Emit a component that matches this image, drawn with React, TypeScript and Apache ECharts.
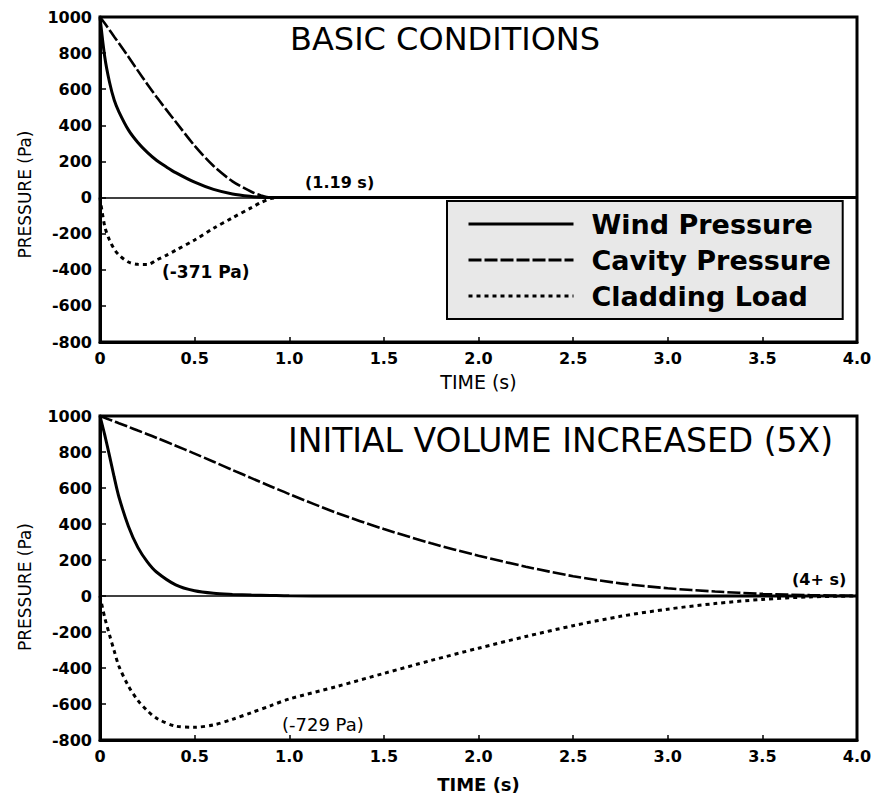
import React, { useEffect, useRef } from "react";
import * as echarts from "echarts";

// ---- data ----
const basicTime = [0, 0.025, 0.05, 0.075, 0.1, 0.15, 0.2, 0.25, 0.3, 0.35, 0.4, 0.5, 0.6, 0.7, 0.8, 0.85, 0.9, 0.95, 1.0, 1.5, 2.0, 2.5, 3.0, 3.5, 4.0];
const basicWind = [1000, 780, 640, 540, 475, 375, 305, 250, 205, 170, 138, 85, 45, 20, 6, 2, 0, 0, 0, 0, 0, 0, 0, 0, 0];
const basicCavity = [1000, 965, 928, 891, 855, 780, 703, 628, 555, 487, 420, 287, 175, 90, 32, 12, 0, 0, 0, 0, 0, 0, 0, 0, 0];
const basicCladding = [0, -160, -235, -285, -318, -357, -370, -371, -345, -320, -292, -235, -170, -112, -56, -28, -6, 0, 0, 0, 0, 0, 0, 0, 0];

const bigTime = [0, 0.025, 0.05, 0.075, 0.1, 0.15, 0.2, 0.25, 0.3, 0.4, 0.5, 0.6, 0.7, 0.8, 0.9, 1.0, 1.25, 1.5, 1.75, 2.0, 2.25, 2.5, 2.75, 3.0, 3.25, 3.5, 3.75, 4.0];
const bigWind = [1000, 895, 780, 660, 550, 388, 270, 190, 132, 62, 29, 15, 9, 5, 3, 1, 0, 0, 0, 0, 0, 0, 0, 0, 0, 0, 0, 0];
const bigCavity = [1000, 990, 980, 970, 960, 940, 919, 899, 878, 835, 791, 746, 700, 655, 610, 566, 462, 372, 293, 224, 163, 110, 70, 43, 25, 12, 5, 1];
const bigCladding = [0, -120, -215, -305, -390, -500, -580, -637, -680, -723, -729, -716, -685, -648, -610, -572, -503, -430, -358, -290, -225, -165, -113, -73, -42, -19, -5, 0];

const seriesNames = ["Wind Pressure", "Cavity Pressure", "Cladding Load"];
const panelTitles = ["BASIC CONDITIONS", "INITIAL VOLUME INCREASED (5X)"];
const annotations = ["(1.19 s)", "(-371 Pa)", "(-729 Pa)", "(4+ s)"];
const xName = "TIME (s)";
const yName = "PRESSURE (Pa)";

const zip = (t: number[], v: number[]) => t.map((x, i) => [x, v[i]]);

const FONT = "DejaVu Sans";

function makeAxes(idx: number) {
  const x = {
    type: "value",
    gridIndex: idx,
    min: 0,
    max: 4,
    interval: 0.5,
    axisLine: { show: true, onZero: false, lineStyle: { color: "#000", width: 3 } },
    axisTick: { show: true, inside: true, length: 5, lineStyle: { color: "#000", width: 1.5 } },
    axisLabel: {
      margin: 8,
      color: "#000",
      fontFamily: FONT,
      fontWeight: "bold",
      fontSize: 16,
      formatter: (v: number) => (v === 0 ? "0" : v.toFixed(1)),
    },
    splitLine: { show: false },
    name: xName,
    nameLocation: "middle",
    nameGap: idx === 0 ? 30 : 35,
    nameTextStyle: {
      color: "#000",
      fontFamily: FONT,
      fontSize: idx === 0 ? 19 : 18,
      fontWeight: idx === 0 ? "normal" : "bold",
    },
  };
  const y = {
    type: "value",
    gridIndex: idx,
    min: -800,
    max: 1000,
    interval: 200,
    axisLine: { show: true, onZero: false, lineStyle: { color: "#000", width: 3 } },
    axisTick: { show: true, inside: true, length: 6, lineStyle: { color: "#000", width: 1.5 } },
    axisLabel: {
      margin: 8,
      color: "#000",
      fontFamily: FONT,
      fontWeight: "bold",
      fontSize: 16,
      formatter: (v: number) => String(v),
    },
    splitLine: { show: false },
    name: yName,
    nameLocation: "middle",
    nameGap: 67,
    nameTextStyle: {
      color: "#000",
      fontFamily: FONT,
      fontSize: 17,
      padding: idx === 0 ? [0, 30, 0, 0] : [0, 18, 0, 0],
    },
  };
  return { x, y };
}

function makeSeries(idx: number, time: number[], wind: number[], cavity: number[], clad: number[]) {
  const common = {
    type: "line",
    xAxisIndex: idx,
    yAxisIndex: idx,
    symbol: "none",
    smooth: 0.3,
  };
  return [
    {
      ...common,
      name: seriesNames[0],
      data: zip(time, wind),
      lineStyle: { color: "#000", width: 3, type: "solid" },
      itemStyle: { color: "#000" },
      z: 3,
      markLine: {
        silent: true,
        symbol: "none",
        label: { show: false },
        lineStyle: { color: "#000", width: 1.5, type: "solid" },
        data: [{ yAxis: 0 }],
      },
    },
    {
      ...common,
      name: seriesNames[1],
      data: zip(time, cavity),
      lineStyle: { color: "#000", width: 2.6, type: [13, 3] },
      itemStyle: { color: "#000" },
      z: 4,
    },
    {
      ...common,
      name: seriesNames[2],
      data: zip(time, clad),
      lineStyle: { color: "#000", width: 3, type: [4, 4] },
      itemStyle: { color: "#000" },
      z: 4,
    },
  ];
}

function txt(text: string, x: number, y: number, size: number, weight: string) {
  return {
    type: "text",
    x,
    y,
    z: 10,
    style: {
      text,
      fill: "#000",
      fontFamily: FONT,
      fontSize: size,
      fontWeight: weight,
      verticalAlign: "middle",
    },
  };
}

export default function App() {
  const ref = useRef<HTMLDivElement>(null);
  useEffect(() => {
    if (!ref.current) return;
    const chart = echarts.init(ref.current, undefined, { renderer: "svg" });
    const a0 = makeAxes(0);
    const a1 = makeAxes(1);
    chart.setOption({
      animation: false,
      backgroundColor: "#fff",
      grid: [
        { left: 100, right: 23, top: 17, height: 325, show: true, borderColor: "#000", borderWidth: 3, backgroundColor: "transparent" },
        { left: 100, right: 23, top: 416, height: 324, show: true, borderColor: "#000", borderWidth: 3, backgroundColor: "transparent" },
      ],
      xAxis: [a0.x, a1.x],
      yAxis: [a0.y, a1.y],
      legend: {
        orient: "vertical",
        left: 447,
        top: 201,
        data: seriesNames,
        itemWidth: 105,
        itemHeight: 14,
        itemGap: 6,
        padding: [8, 12, 8, 20],
        backgroundColor: "#e8e8e8",
        borderColor: "#000",
        borderWidth: 2,
        borderRadius: 0,
        lineStyle: { width: 3 },
        itemStyle: { opacity: 0 },
        selectedMode: false,
        textStyle: {
          color: "#000",
          fontFamily: FONT,
          fontWeight: "bold",
          fontSize: 27,
          lineHeight: 30,
          padding: [0, 0, 0, 13],
        },
      },
      graphic: [
        txt(panelTitles[0], 290, 39, 32, "normal"),
        txt(panelTitles[1], 288, 440, 33, "normal"),
        txt(annotations[0], 305, 182, 16, "bold"),
        txt(annotations[1], 162, 272, 17, "bold"),
        txt(annotations[2], 282, 724, 18, "normal"),
        txt(annotations[3], 792, 579, 16, "bold"),
      ],
      series: [
        ...makeSeries(0, basicTime, basicWind, basicCavity, basicCladding),
        ...makeSeries(1, bigTime, bigWind, bigCavity, bigCladding),
      ],
    });
    return () => chart.dispose();
  }, []);
  return (
    <div
      ref={ref}
      style={{ position: "fixed", left: 0, top: 0, width: 880, height: 796, background: "#fff" }}
    />
  );
}
